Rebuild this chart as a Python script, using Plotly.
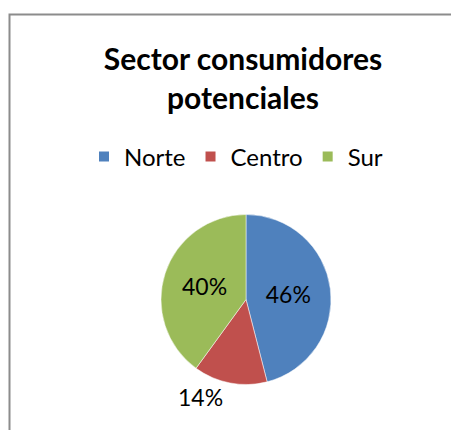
import plotly.graph_objects as go

categories = ["Norte", "Centro", "Sur"]
values = [46, 14, 40]
colors = ["#4F81BD", "#C0504D", "#9BBB59"]
text_positions = ["inside", "outside", "inside"]

W, H = 459, 430

fig = go.Figure(
    go.Pie(
        labels=categories,
        values=values,
        sort=False,
        direction="clockwise",
        rotation=0,
        marker=dict(colors=colors, line=dict(color="white", width=0.5)),
        textinfo="percent",
        texttemplate="%{percent:.0%}",
        textposition=text_positions,
        insidetextorientation="horizontal",
        textfont=dict(family="Lato", size=23, color="black"),
        domain=dict(x=[153 / W, 323 / W], y=[(H - 376.5) / H, (H - 206.5) / H]),
        hoverinfo="label+percent",
    )
)

fig.update_layout(
    width=W,
    height=H,
    margin=dict(l=0, r=0, t=0, b=0),
    paper_bgcolor="white",
    plot_bgcolor="white",
    title=dict(
        text="<b>Sector consumidores<br>potenciales</b>",
        x=235 / W,
        xanchor="center",
        y=1 - 62 / H,
        yanchor="top",
        yref="container",
        font=dict(family="Lato", size=30, color="black"),
    ),
    showlegend=True,
    legend=dict(
        orientation="h",
        x=228 / W,
        xanchor="center",
        y=1 - 149 / H,
        yanchor="middle",
        font=dict(family="Lato", size=24, color="black"),
        itemsizing="constant",
        traceorder="normal",
    ),
    shapes=[
        dict(
            type="rect",
            xref="paper",
            yref="paper",
            x0=1.5 / W,
            x1=1.2,
            y0=-0.2,
            y1=1 - 6.5 / H,
            line=dict(color="#8C8C8C", width=2),
        )
    ],
)

fig.write_html("out.html")
